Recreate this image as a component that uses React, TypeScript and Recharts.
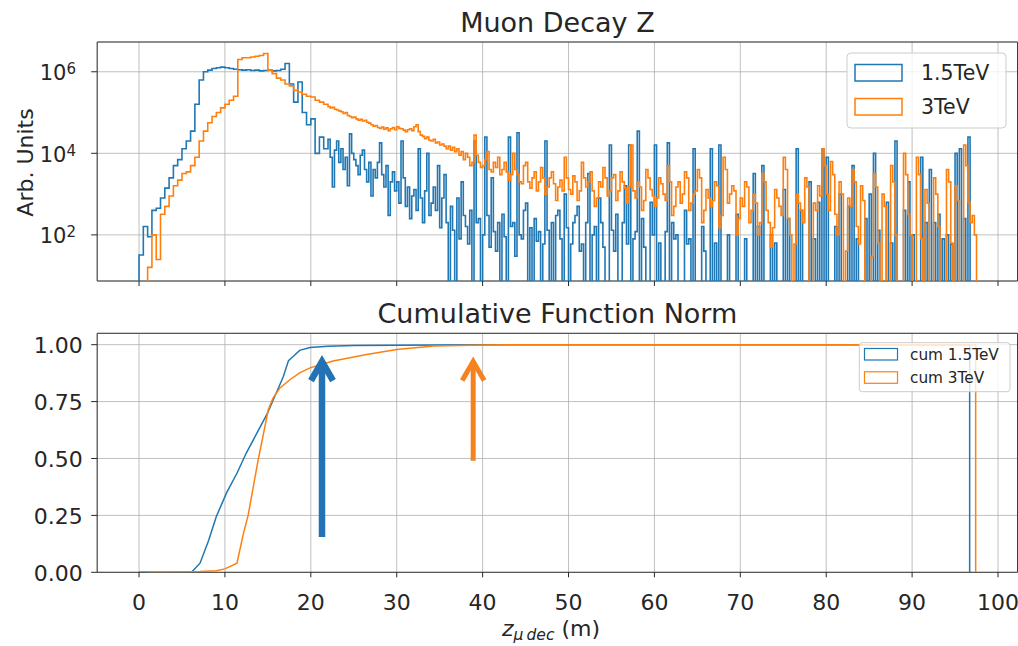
import React from "react";
import {
  LineChart,
  Line,
  XAxis,
  YAxis,
  CartesianGrid,
  ReferenceArea,
  ReferenceLine,
} from "recharts";

const BLUE = "#1f77b4";
const ORANGE = "#ff7f0e";
const INK = "#262626";
const FONT = "DejaVu Sans";

const seriesNames = ["1.5TeV", "3TeV"];
const cumNames = ["cum 1.5TeV", "cum 3TeV"];

// histogram counts per bin (0 = empty bin)
// head: 0.5 m bins up to z = 22, tail: 0.25 m bins after that
const HEAD_BIN = 0.5;
const TAIL_BIN = 0.25;
const TAIL_START = 22;

const blueStart = 0;
const blueHead = [
  32, 160, 90, 400, 450, 800, 1400, 2500, 5000, 7000,
  1.3e4, 2e4, 3.5e4, 1.6e5, 6.3e5, 1e6, 1.1e6, 1.2e6, 1.25e6, 1.3e6,
  1.25e6, 1.2e6, 1.15e6, 1.12e6, 1.1e6, 1.12e6, 1.07e6, 1.1e6, 1.05e6, 1.07e6,
  1.1e6, 1.05e6, 1.07e6, 1.15e6, 1.6e6, 5e5, 1.8e5, 5.6e5, 1e5, 5e4,
  7e4, 1e4, 2.5e4, 1.3e4,
];
const blueTail = [
  2.2e4, 8e3, 1.5e3, 1.2e4, 2e4, 6e3, 1.3e4, 4e3, 8e3, 1.6e3, 3e4, 1e4, 7e3, 5e3, 3e3, 9e3, 1.2e4, 4e3, 2e3, 6e3,
  900, 4e3, 2.5e3, 6e3, 1.8e4, 3e3, 1.5e3, 5e3, 300, 2e3, 3.5e3, 1.2e3, 2e3, 600, 2e4, 2.5e3, 500, 1.5e3, 250, 900,
  1.3e3, 400, 1.3e4, 800, 200, 1.2e3, 1e4, 300, 600, 1.5e3, 400, 5e3, 150, 800, 3e3, 200, 0, 500, 130, 0,
  800, 80, 2e3, 300, 160, 60, 400, 0, 2e4, 200, 250, 0, 100, 2.5e4, 300, 50, 2.5e3, 120, 40, 200,
  0, 320, 90, 0, 2.5e4, 160, 200, 30, 3.2e4, 100, 80, 400, 600, 0, 150, 0, 250, 70, 120, 0,
  60, 2e4, 130, 0, 200, 0, 300, 400, 80, 0, 1e3, 150, 0, 60, 200, 300, 500, 40, 60, 0,
  200, 3.2e3, 0, 100, 160, 0, 800, 200, 50, 0, 0, 1.6e4, 130, 40, 320, 0, 0, 200, 1.6e3, 60,
  1.6e4, 0, 80, 120, 3.5e4, 0, 250, 50, 0, 0, 630, 100, 1.6e4, 0, 63, 0, 0, 120, 1.8e4, 0,
  200, 80, 100, 0, 0, 0, 400, 60, 80, 0, 1.3e4, 0, 0, 0, 160, 40, 0, 0, 1.3e4, 0,
  63, 0, 1.6e4, 0, 0, 0, 100, 0, 0, 0, 320, 0, 0, 0, 80, 0, 0, 0, 3.2e3, 0,
  160, 0, 5e3, 0, 0, 0, 100, 0, 63, 0, 0, 0, 1.3e3, 0, 250, 0, 0, 0, 1.3e4, 0,
  400, 0, 0, 0, 2e3, 0, 80, 0, 630, 0, 1.3e4, 0, 8e3, 0, 0, 0, 160, 0, 1e3, 0,
  0, 0, 500, 0, 5e3, 0, 80, 0, 0, 0, 250, 0, 1e3, 0, 1e4, 0, 130, 0, 0, 0,
  630, 0, 63, 0, 2e4, 0, 0, 0, 400, 0, 2e3, 0, 100, 0, 0, 0, 8e3, 0, 200, 0,
  4e3, 0, 200, 0, 320, 0, 80, 0, 100, 0, 60, 0, 1e4, 0, 1.3e4, 0, 250, 0, 2.5e4,
];

const orangeStart = 1;
const orangeHead = [
  16, 100, 25, 320, 500, 900, 1.6e3, 2.2e3, 3.2e3, 3.5e3,
  5e3, 8e3, 2e4, 3.5e4, 5.6e4, 8e4, 1e5, 1.3e5, 1.6e5, 2e5,
  2.5e5, 2e6, 2.2e6, 2.2e6, 2.3e6, 2.4e6, 2.5e6, 2.8e6, 1.1e6, 9e5,
  7e5, 6.3e5, 5e5, 4.5e5, 3.5e5, 3.2e5, 2.8e5, 2.5e5, 2.4e5, 2e5,
  1.8e5, 1.6e5,
];
const orangeTail = [
  1.4e5, 1.3e5, 1.35e5, 1.2e5, 1.15e5, 1.1e5, 1.05e5, 9.5e4, 1e5, 8.5e4, 8e4, 7.5e4, 7.8e4, 7e4, 6.5e4, 6.8e4, 6.2e4, 6.5e4, 5.8e4, 5.5e4,
  5e4, 4.6e4, 4.8e4, 4.3e4, 4.1e4, 4.4e4, 3.9e4, 4.2e4, 3.6e4, 4e4, 4.3e4, 3.8e4, 4.5e4, 4.1e4, 4e4, 3.7e4, 3.4e4, 3.8e4, 4e4, 3.6e4,
  4.5e4, 5e4, 3.4e4, 2.8e4, 2.6e4, 2.3e4, 2.5e4, 2.1e4, 2e4, 2.2e4, 1.8e4, 1.9e4, 1.6e4, 1.7e4, 1.5e4, 1.3e4, 1.5e4, 1.2e4, 1.4e4, 1.1e4,
  1.3e4, 9e3, 1.1e4, 7e3, 1e4, 8e3, 5e3, 6e3, 2.8e4, 9e3, 6e3, 4.5e3, 5e3, 7e3, 1.1e4, 4e3, 3.5e3, 6e3, 4.5e3, 8e3,
  3e3, 4e3, 6e3, 3.5e3, 2.2e3, 3e3, 1e4, 4e3, 3e3, 2e3, 1.8e3, 5e3, 6e3, 2e3, 1.4e3, 2.5e3, 3.5e3, 1.2e3, 2e3, 4.5e3,
  2.5e3, 1e3, 1.5e3, 2.5e3, 3.5e3, 1.8e3, 700, 1.5e3, 2.2e3, 1.2e3, 8e3, 2.5e3, 1.3e3, 1e3, 2.8e3, 2e3, 700, 1.2e3, 6e3, 2.5e3,
  1.5e3, 2e3, 3.5e3, 1.2e3, 500, 800, 2e3, 1.5e3, 4.5e3, 2.5e3, 900, 1.2e3, 2.5e3, 3e3, 700, 1.2e3, 3.5e3, 2e3, 1.4e3, 600,
  1.5e3, 1.6e4, 1.2e3, 800, 2e3, 1.5e3, 400, 700, 4e3, 2.5e3, 1.3e3, 900, 500, 800, 2.5e3, 1.8e3, 1e3, 700, 5e3, 2e3,
  300, 500, 1.5e3, 2e3, 600, 1e3, 3.5e3, 2.5e3, 400, 600, 1e3, 1.2e3, 4e3, 2.5e3, 200, 400, 1.3e3, 800, 500, 700,
  2e3, 1.6e3, 150, 300, 8e3, 4e3, 600, 1e3, 1.6e3, 1.2e3, 100, 250, 800, 500, 2e3, 1.5e3, 200, 400, 1e3, 600,
  100, 200, 3.2e3, 2e3, 400, 200, 50, 150, 1.3e3, 800, 500, 300, 8e3, 4e3, 250, 100, 0, 60, 1e3, 600,
  400, 200, 2.5e3, 1.5e3, 0, 0, 600, 400, 1.6e3, 900, 1.3e4, 5e3, 1e3, 400, 6.3e3, 3e3, 320, 100, 2e3, 1e3,
  0, 40, 800, 500, 4e3, 2e3, 160, 60, 1.6e3, 700, 0, 0, 0, 30, 3.2e3, 1.5e3, 63, 0, 1e3, 500,
  0, 0, 5e3, 2e3, 100, 0, 0, 0, 1e4, 3e3, 320, 100, 0, 0, 8e3, 3e3, 80, 0, 1.3e3, 600,
  0, 0, 2.5e3, 1e3, 160, 0, 0, 0, 4e3, 2e3, 63, 0, 1.6e3, 700, 0, 0, 1.6e4, 5e3, 630, 200,
  300, 100,
];

// normalised cumulative curves
const cumBlueZ = [0, 6.1, 7.1, 8.1, 9.0, 10.2, 11.4, 12.5, 13.7, 14.9, 16.0, 16.8, 17.4, 18.0, 18.7, 19.9, 22, 25, 30, 40, 96.7];
const cumBlueC = [0, 0, 0.04, 0.14, 0.245, 0.35, 0.435, 0.525, 0.61, 0.695, 0.79, 0.86, 0.93, 0.95, 0.975, 0.988, 0.993, 0.996, 0.998, 1, 1];
const cumOrangeZ = [1.1, 5, 7.1, 9, 10, 11.4, 12.15, 12.7, 13.3, 13.9, 14.5, 15.05, 15.6, 16.4, 17.6, 18.7, 19.9, 22.6, 26.5, 30, 34.3, 40, 50, 97.4];
const cumOrangeC = [0, 0.001, 0.003, 0.007, 0.015, 0.04, 0.17, 0.25, 0.375, 0.5, 0.61, 0.715, 0.765, 0.81, 0.847, 0.876, 0.898, 0.928, 0.957, 0.979, 0.994, 0.999, 1, 1];

const xTicks = [0, 10, 20, 30, 40, 50, 60, 70, 80, 90, 100];
const histTicks = [1e2, 1e4, 1e6];
const cumTicks = [0, 0.25, 0.5, 0.75, 1];

const arrows = [
  { z: 21.3, from: 0.155, to: 0.948, color: "#2372b6", width: 6.5 },
  { z: 38.9, from: 0.49, to: 0.948, color: "#f58220", width: 5 },
];

const X_DOMAIN: [number, number] = [-4.87, 102.27];
const HIST_DOMAIN: [number, number] = [7.4, 5.37e6];
const CUM_DOMAIN: [number, number] = [0, 1.05];
const FLOOR = 1; // empty bins drop below the log axis

type Seg = { start: number; width: number; counts: number[] };

// outline of a step histogram, closed down to the floor at both ends
const toSteps = (segs: Seg[]) => {
  const pts = [{ z: segs[0].start, v: FLOOR }];
  segs.forEach((s) =>
    s.counts.forEach((n, i) => pts.push({ z: s.start + i * s.width, v: n > 0 ? n : FLOOR }))
  );
  const s = segs[segs.length - 1];
  const end = s.start + s.counts.length * s.width;
  const last = s.counts[s.counts.length - 1];
  pts.push({ z: end, v: last > 0 ? last : FLOOR }, { z: end, v: FLOOR });
  return pts;
};

const toCum = (zs: number[], cs: number[]) => [
  ...zs.map((z, i) => ({ z, v: cs[i] })),
  { z: zs[zs.length - 1], v: 0 },
];

const blueHist = toSteps([
  { start: blueStart, width: HEAD_BIN, counts: blueHead },
  { start: TAIL_START, width: TAIL_BIN, counts: blueTail },
]);
const orangeHist = toSteps([
  { start: orangeStart, width: HEAD_BIN, counts: orangeHead },
  { start: TAIL_START, width: TAIL_BIN, counts: orangeTail },
]);
const blueCum = toCum(cumBlueZ, cumBlueC);
const orangeCum = toCum(cumOrangeZ, cumOrangeC);

const PowTick = ({ x, y, payload }: any) => (
  <text x={x} y={y} dy={8.3} textAnchor="end" fontFamily={FONT} fontSize={21} fill={INK}>
    10
    <tspan dy={-6} fontSize={15}>
      {Math.round(Math.log10(payload.value))}
    </tspan>
  </text>
);

const CumTick = ({ x, y, payload }: any) => (
  <text x={x} y={y} dy={8.3} textAnchor="end" fontFamily={FONT} fontSize={22} fill={INK}>
    {payload.value.toFixed(2)}
  </text>
);

const XTick = ({ x, y, payload }: any) => (
  <text x={x} y={y} dy={30.7} textAnchor="middle" fontFamily={FONT} fontSize={22} fill={INK}>
    {payload.value}
  </text>
);

const arrowShape = (color: string, w: number) => (p: any) => {
  const { x1, y1, x2, y2 } = p;
  const tipY = y2 + 5;
  return (
    <g>
      <line x1={x1} y1={y1} x2={x2} y2={tipY + 2} stroke={color} strokeWidth={w} />
      <polyline
        points={`${x2 - 11},${tipY + 19} ${x2},${tipY} ${x2 + 11},${tipY + 19}`}
        fill="none"
        stroke={color}
        strokeWidth={w}
        strokeLinejoin="miter"
      />
    </g>
  );
};

const frameStyle = { fill: "none", fillOpacity: 0, stroke: "#3a3a3a", strokeWidth: 1 };

export default function App() {
  return (
    <div style={{ position: "absolute", left: 0, top: 0, width: 1018, height: 646, background: "#fff", overflow: "hidden" }}>
      <div style={{ position: "absolute", left: 0, top: 0 }}>
        <LineChart width={1018} height={300} margin={{ top: 42, right: 0.5, bottom: 0, left: 0 }}>
          <CartesianGrid stroke="#b0b0b0" strokeWidth={0.8} />
          <XAxis
            dataKey="z"
            type="number"
            domain={X_DOMAIN}
            allowDataOverflow
            ticks={xTicks}
            height={19}
            tickSize={5}
            axisLine={false}
            tickLine={{ stroke: INK }}
            tickFormatter={() => ""}
          />
          <YAxis
            dataKey="v"
            scale="log"
            domain={HIST_DOMAIN}
            allowDataOverflow
            ticks={histTicks}
            width={97.2}
            tickSize={6}
            tickMargin={15.2}
            axisLine={false}
            tickLine={{ stroke: INK }}
            tick={PowTick}
          />
          <Line data={blueHist} dataKey="v" type="stepAfter" stroke={BLUE} strokeWidth={1.6} dot={false} activeDot={false} isAnimationActive={false} />
          <Line data={orangeHist} dataKey="v" type="stepAfter" stroke={ORANGE} strokeWidth={1.6} dot={false} activeDot={false} isAnimationActive={false} />
          <ReferenceArea x1={X_DOMAIN[0]} x2={X_DOMAIN[1]} y1={HIST_DOMAIN[0]} y2={HIST_DOMAIN[1]} ifOverflow="visible" {...frameStyle} />
        </LineChart>
      </div>

      <div style={{ position: "absolute", left: 0, top: 300 }}>
        <LineChart width={1018} height={346} margin={{ top: 33.3, right: 0.5, bottom: 0, left: 0 }}>
          <CartesianGrid stroke="#b0b0b0" strokeWidth={0.8} />
          <XAxis
            dataKey="z"
            type="number"
            domain={X_DOMAIN}
            allowDataOverflow
            ticks={xTicks}
            height={73.7}
            tickSize={5}
            axisLine={false}
            tickLine={{ stroke: INK }}
            tick={XTick}
          />
          <YAxis
            dataKey="v"
            type="number"
            domain={CUM_DOMAIN}
            allowDataOverflow
            ticks={cumTicks}
            width={97.2}
            tickSize={6}
            tickMargin={8.5}
            axisLine={false}
            tickLine={{ stroke: INK }}
            tick={CumTick}
          />
          <Line data={blueCum} dataKey="v" type="linear" stroke={BLUE} strokeWidth={1.5} dot={false} activeDot={false} isAnimationActive={false} />
          <Line data={orangeCum} dataKey="v" type="linear" stroke={ORANGE} strokeWidth={1.5} dot={false} activeDot={false} isAnimationActive={false} />
          <ReferenceArea x1={X_DOMAIN[0]} x2={X_DOMAIN[1]} y1={CUM_DOMAIN[0]} y2={CUM_DOMAIN[1]} ifOverflow="visible" {...frameStyle} />
          {arrows.map((a, i) => (
            <ReferenceLine
              key={i}
              segment={[{ x: a.z, y: a.from }, { x: a.z, y: a.to }]}
              ifOverflow="visible"
              shape={arrowShape(a.color, a.width)}
            />
          ))}
        </LineChart>
      </div>

      <svg width={1018} height={646} style={{ position: "absolute", left: 0, top: 0, pointerEvents: "none" }} fontFamily={FONT}>
        <text x={557.4} y={32} textAnchor="middle" fontSize={27} fill={INK}>Muon Decay Z</text>
        <text x={557.4} y={323} textAnchor="middle" fontSize={27} fill={INK}>Cumulative Function Norm</text>
        <text transform="translate(25,162.5) rotate(-90)" textAnchor="middle" dominantBaseline="central" fontSize={22} fill={INK}>
          Arb. Units
        </text>
        <text x={502} y={636} fontSize={22} fill={INK}>
          <tspan fontStyle="italic">z</tspan>
          <tspan fontStyle="italic" fontSize={15.5} dy={4}>{"μ\u2009dec"}</tspan>
          <tspan dy={-4}>{" (m)"}</tspan>
        </text>

        <rect x={847} y={53} width={159} height={75} rx={4} fill="#fff" fillOpacity={0.8} stroke="#cccccc" />
        <rect x={855} y={64.5} width={47} height={16.5} fill="none" stroke={BLUE} strokeWidth={1.5} />
        <text x={921} y={80} fontSize={20.5} fill={INK}>{seriesNames[0]}</text>
        <rect x={855} y={98.5} width={47} height={16.5} fill="none" stroke={ORANGE} strokeWidth={1.5} />
        <text x={921} y={114} fontSize={20.5} fill={INK}>{seriesNames[1]}</text>

        <rect x={859.3} y={342.7} width={150.7} height={49} rx={3} fill="#fff" fillOpacity={0.8} stroke="#cccccc" />
        <rect x={864.5} y={348.5} width={33} height={11.5} fill="none" stroke={BLUE} strokeWidth={1.2} />
        <text x={910} y={359.5} fontSize={15.3} fill={INK}>{cumNames[0]}</text>
        <rect x={864.5} y={371.8} width={33} height={11.5} fill="none" stroke={ORANGE} strokeWidth={1.2} />
        <text x={910} y={383} fontSize={15.3} fill={INK}>{cumNames[1]}</text>
      </svg>
    </div>
  );
}
